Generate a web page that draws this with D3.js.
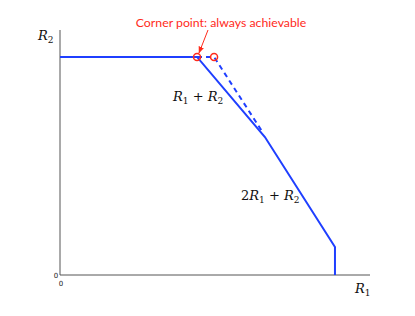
<!DOCTYPE html>
<html>
<head>
<meta charset="utf-8">
<script src="https://cdn.jsdelivr.net/npm/d3@7"></script>
<style>
  body { margin: 0; background: #fff; }
  .math { font-family: "DejaVu Serif", "Liberation Serif", serif; font-style: italic; }
</style>
</head>
<body>
<script>
// region boundary (abstract rate units)
const boundary = [
  { r1: 0, r2: 8.9 },
  { r1: 4.42, r2: 8.9 },
  { r1: 6.61, r2: 5.63 },
  { r1: 8.87, r2: 1.14 },
  { r1: 8.87, r2: 0 }
];
const dashed = [
  { r1: 4.42, r2: 8.9 },
  { r1: 4.97, r2: 8.9 },
  { r1: 6.55, r2: 5.8 }
];
const corners = [
  { r1: 4.42, r2: 8.9 },
  { r1: 4.97, r2: 8.9 }
];

const w = 415, h = 316;
const svg = d3.select("body").append("svg").attr("width", w).attr("height", h);

const x = d3.scaleLinear().domain([0, 10]).range([60, 370]);
const y = d3.scaleLinear().domain([0, 10]).range([275, 30]);

// axes
svg.append("line").attr("x1", x(0)).attr("x2", x(0)).attr("y1", y(0)).attr("y2", y(10))
  .attr("stroke", "#555").attr("stroke-width", 1);
svg.append("line").attr("x1", x(0)).attr("x2", x(10)).attr("y1", y(0)).attr("y2", y(0))
  .attr("stroke", "#555").attr("stroke-width", 1);

const line = d3.line().x(d => x(d.r1)).y(d => y(d.r2));

svg.append("path").datum(dashed).attr("d", line)
  .attr("fill", "none").attr("stroke", "#1f3fff").attr("stroke-width", 2)
  .attr("stroke-dasharray", "5,4");

svg.append("path").datum(boundary).attr("d", line)
  .attr("fill", "none").attr("stroke", "#1f3fff").attr("stroke-width", 2);

svg.selectAll("circle.corner").data(corners).enter().append("circle")
  .attr("class", "corner")
  .attr("cx", d => x(d.r1)).attr("cy", d => y(d.r2)).attr("r", 3.5)
  .attr("fill", "none").attr("stroke", "#ff2a1a").attr("stroke-width", 1.5);

// annotation
svg.append("text").attr("x", 221).attr("y", 27).attr("text-anchor", "middle")
  .attr("font-family", "Lato, 'Open Sans', sans-serif").attr("font-size", 12.3)
  .attr("fill", "#ff2a1a").text("Corner point: always achievable");

svg.append("defs").append("marker").attr("id", "arr")
  .attr("viewBox", "0 0 10 10").attr("refX", 9).attr("refY", 5)
  .attr("markerWidth", 7).attr("markerHeight", 7).attr("orient", "auto")
  .append("path").attr("d", "M0,1 L10,5 L0,9 Z").attr("fill", "#ff2a1a");

svg.append("line").attr("x1", 208).attr("y1", 30).attr("x2", x(4.42) + 2).attr("y2", y(8.9) - 4)
  .attr("stroke", "#ff2a1a").attr("stroke-width", 1).attr("marker-end", "url(#arr)");

// labels
function mathLabel(px, py, parts, size) {
  const t = svg.append("text").attr("x", px).attr("y", py).attr("class", "math")
    .attr("font-size", size || 13).attr("fill", "#111");
  parts.forEach(p => {
    const s = t.append("tspan").text(p.t);
    if (p.sub) s.attr("font-size", 9).attr("dy", 3).attr("font-style", "normal");
    if (p.up) s.attr("dy", -3);
    if (p.normal) s.attr("font-style", "normal");
  });
  return t;
}

mathLabel(38, 40, [{ t: "R" }, { t: "2", sub: true }]);
mathLabel(355, 293, [{ t: "R" }, { t: "1", sub: true }]);
mathLabel(173, 101, [{ t: "R" }, { t: "1", sub: true }, { t: " + ", up: true, normal: true }, { t: "R" }, { t: "2", sub: true }]);
mathLabel(241, 200, [{ t: "2", normal: true }, { t: "R" }, { t: "1", sub: true }, { t: " + ", up: true, normal: true }, { t: "R" }, { t: "2", sub: true }]);

svg.append("text").attr("x", 56).attr("y", 278).attr("text-anchor", "middle")
  .attr("font-family", "DejaVu Sans, sans-serif").attr("font-size", 7).attr("fill", "#222").text("0");
svg.append("text").attr("x", 61).attr("y", 286).attr("text-anchor", "middle")
  .attr("font-family", "DejaVu Sans, sans-serif").attr("font-size", 7).attr("fill", "#222").text("0");
</script>
</body>
</html>
